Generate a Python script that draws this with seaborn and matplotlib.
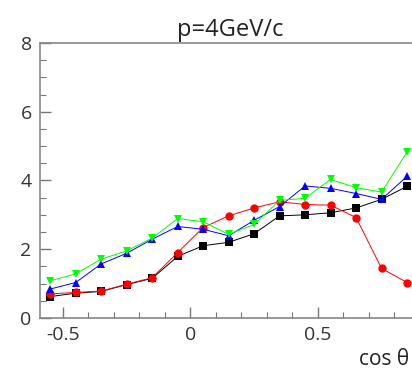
import pandas as pd
import matplotlib
matplotlib.use("Agg")
import matplotlib.pyplot as plt
from matplotlib.ticker import MultipleLocator, FuncFormatter
import seaborn as sns

# bin centres in cos(theta)
cos_theta = [-0.55, -0.45, -0.35, -0.25, -0.15, -0.05, 0.05, 0.15,
             0.25, 0.35, 0.45, 0.55, 0.65, 0.75, 0.85]

black_vals = [0.62, 0.72, 0.77, 0.97, 1.15, 1.79, 2.10, 2.20,
              2.45, 2.97, 3.00, 3.06, 3.20, 3.45, 3.83]
red_vals = [0.70, 0.74, 0.78, 0.98, 1.17, 1.90, 2.63, 2.97,
            3.20, 3.38, 3.30, 3.28, 2.92, 1.44, 1.03]
blue_vals = [0.84, 1.03, 1.57, 1.88, 2.29, 2.66, 2.58, 2.39,
             2.84, 3.24, 3.84, 3.77, 3.62, 3.45, 4.12]
green_vals = [1.08, 1.28, 1.71, 1.95, 2.32, 2.89, 2.80, 2.43,
              2.72, 3.42, 3.48, 4.03, 3.79, 3.66, 4.83]

series = {
    "black": (black_vals, "s"),
    "red": (red_vals, "o"),
    "blue": (blue_vals, "^"),
    "lime": (green_vals, "v"),
}

title = "p=4GeV/c"
xlabel = "cos θ"

sns.set_theme(style="white")
plt.rcParams["font.family"] = ["Open Sans", "DejaVu Sans"]

fig = plt.figure(figsize=(4.12, 3.74), dpi=100)
ax = fig.add_axes([0.097, 0.150, 0.922, 0.735])

for color, (vals, marker) in series.items():
    df = pd.DataFrame({"x": cos_theta, "y": vals})
    sns.lineplot(data=df, x="x", y="y", ax=ax, color=color, marker=marker,
                 markersize=6, markeredgewidth=0, linewidth=0.7,
                 estimator=None, sort=False, clip_on=False)

ax.set_xlim(-0.59, 0.9)
ax.set_ylim(0, 8)
ax.xaxis.set_major_locator(MultipleLocator(0.5))
ax.xaxis.set_minor_locator(MultipleLocator(0.1))
ax.yaxis.set_major_locator(MultipleLocator(2))
ax.yaxis.set_minor_locator(MultipleLocator(0.5))
ax.xaxis.set_major_formatter(FuncFormatter(
    lambda v, p: "0" if abs(v) < 1e-9 else f"{v:g}"))

ax.tick_params(which="both", direction="in", colors="#777777",
               labelcolor="#333333", labelsize=14)
ax.tick_params(which="major", length=8, width=1)
ax.tick_params(which="minor", length=4, width=0.8)
ax.tick_params(axis="y", which="both", left=True, right=False, pad=6)
ax.tick_params(axis="x", which="both", bottom=True, top=False, pad=6)

for s in ax.spines.values():
    s.set_color("#888888")
    s.set_linewidth(1.2)

ax.set_xlabel("")
ax.set_ylabel("")
ax.set_title(title, fontsize=17, color="#222222", pad=5)
fig.text(0.993, 0.024, xlabel, fontsize=15, color="#222222",
         ha="right", va="baseline")

fig.savefig("out.png", dpi=100, facecolor="white")
